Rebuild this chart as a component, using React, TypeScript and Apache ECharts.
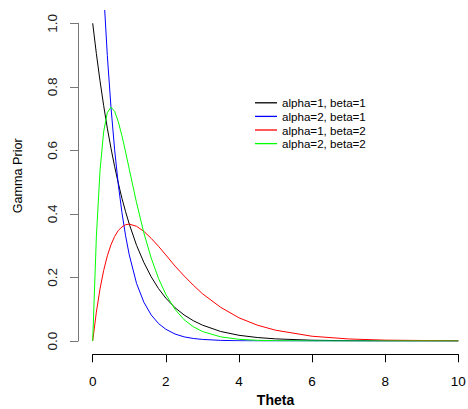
import React, { useEffect, useRef } from "react";
import * as echarts from "echarts";

const theta = [0, 0.1, 0.2, 0.3, 0.4, 0.5, 0.6, 0.7, 0.8, 0.9, 1.0, 1.2, 1.4, 1.6, 1.8, 2.0, 2.25, 2.5, 2.75, 3.0, 3.5, 4.0, 4.5, 5.0, 6.0, 7.0, 8.0, 10.0];
const a1b1 = [1, 0.905, 0.819, 0.741, 0.67, 0.607, 0.549, 0.497, 0.449, 0.407, 0.368, 0.301, 0.247, 0.202, 0.165, 0.135, 0.105, 0.082, 0.064, 0.05, 0.03, 0.018, 0.011, 0.0067, 0.0025, 0.0009, 0.0003, 0.00005];
const a2b1 = [2, 1.637, 1.341, 1.098, 0.899, 0.736, 0.602, 0.493, 0.404, 0.331, 0.271, 0.181, 0.122, 0.082, 0.055, 0.037, 0.022, 0.013, 0.008, 0.005, 0.002, 0.0007, 0.0002, 0.0001, 0, 0, 0, 0];
const a1b2 = [0, 0.0905, 0.164, 0.222, 0.268, 0.303, 0.329, 0.348, 0.359, 0.366, 0.368, 0.361, 0.345, 0.323, 0.298, 0.271, 0.236, 0.205, 0.176, 0.149, 0.106, 0.073, 0.05, 0.034, 0.015, 0.0064, 0.0027, 0.0005];
const a2b2 = [0, 0.327, 0.536, 0.659, 0.719, 0.736, 0.723, 0.69, 0.646, 0.595, 0.541, 0.435, 0.34, 0.261, 0.197, 0.147, 0.1, 0.067, 0.045, 0.03, 0.013, 0.0054, 0.0022, 0.0009, 0.0001, 0, 0, 0];

const seriesNames = ["alpha=1, beta=1", "alpha=2, beta=1", "alpha=1, beta=2", "alpha=2, beta=2"];
const seriesColors = ["#000000", "#0000FF", "#FF0000", "#00FF00"];
const seriesValues = [a1b1, a2b1, a1b2, a2b2];
const xTicks = [0, 2, 4, 6, 8, 10];

export default function App() {
  const ref = useRef<HTMLDivElement>(null);
  useEffect(() => {
    if (!ref.current) return;
    const chart = echarts.init(ref.current, null, { renderer: "svg" });
    const font = "Liberation Sans, Arial, sans-serif";
    chart.setOption({
      animation: false,
      backgroundColor: "#ffffff",
      textStyle: { fontFamily: font },
      grid: [
        { left: 92.7, right: 9.7, top: 10.6, bottom: 68, containLabel: false, outerBoundsMode: "none" },
        { left: 78, width: 10, top: 23.3, bottom: 68, containLabel: false, outerBoundsMode: "none" },
      ],
      legend: {
        left: 250,
        top: 91,
        orient: "vertical",
        icon: "rect",
        itemWidth: 22,
        itemHeight: 1.3,
        itemGap: 0,
        data: seriesNames,
        textStyle: { fontSize: 11.6, color: "#000", lineHeight: 13.6, padding: [0, 0, 0, 0], fontFamily: font },
      },
      xAxis: [
        {
          type: "value",
          gridIndex: 0,
          min: 0,
          max: 10,
          interval: 2,
          offset: 13.3,
          axisLine: { show: true, onZero: false, lineStyle: { color: "#000", width: 1 } },
          axisTick: { show: true, length: 8, lineStyle: { color: "#000" } },
          axisLabel: { show: true, fontSize: 13.5, color: "#000", margin: 20, formatter: (v: number) => (xTicks.includes(v) ? String(v) : "") },
          splitLine: { show: false },
          name: "Theta",
          nameLocation: "middle",
          nameGap: 38,
          nameTextStyle: { fontSize: 14, fontWeight: "bold", color: "#000" },
        },
        { type: "value", gridIndex: 1, show: false, min: 0, max: 1 },
      ],
      yAxis: [
        {
          type: "value",
          gridIndex: 0,
          min: 0,
          max: 1.04,
          axisLine: { show: false, onZero: false },
          axisTick: { show: false },
          axisLabel: { show: false },
          splitLine: { show: false },
          name: "Gamma Prior",
          nameLocation: "middle",
          nameRotate: 90,
          nameGap: 68,
          nameTextStyle: { fontSize: 12.6, color: "#000" },
        },
        {
          type: "value",
          gridIndex: 1,
          position: "left",
          min: 0,
          max: 1,
          interval: 0.2,
          axisLine: { show: true, onZero: false, lineStyle: { color: "#777777", width: 1 } },
          axisTick: { show: true, length: 8, lineStyle: { color: "#777777" } },
          axisLabel: { show: true, rotate: 90, fontSize: 13.5, color: "#222", margin: 19, formatter: (v: number) => v.toFixed(1) },
          splitLine: { show: false },
        },
      ],
      series: seriesNames.map((name, i) => ({
        name,
        type: "line",
        xAxisIndex: 0,
        yAxisIndex: 0,
        data: theta.map((t, j) => [t, seriesValues[i][j]]),
        showSymbol: false,
        symbol: "none",
        smooth: false,
        clip: true,
        color: seriesColors[i],
        lineStyle: { color: seriesColors[i], width: 1 },
        itemStyle: { color: seriesColors[i] },
      })),
    });
    return () => chart.dispose();
  }, []);
  return <div ref={ref} style={{ width: 468, height: 409, position: "absolute", left: 0, top: 0 }} />;
}
